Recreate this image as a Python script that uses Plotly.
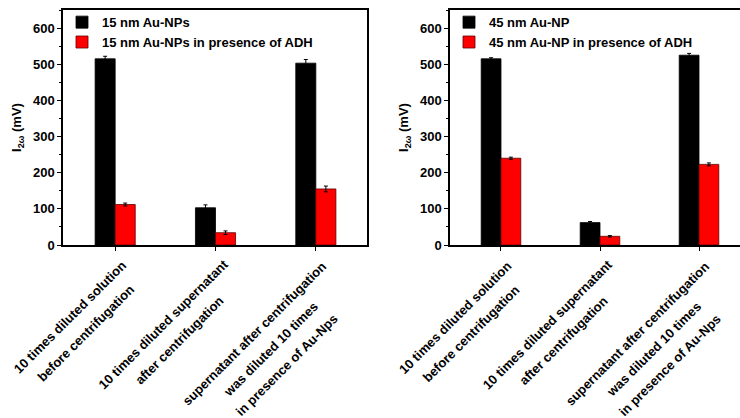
import math
import plotly.graph_objects as go

category_lines = [
    ["10 times diluted solution", "before centrifugation"],
    ["10 times diluted supernatant", "after centrifugation"],
    ["supernatant after centrifugation", "was diluted 10 times", "in presence of Au-Nps"],
]
cat_pos = [1, 2, 3]

left_names = ["15 nm Au-NPs", "15 nm Au-NPs in presence of ADH"]
left_black = [515, 103, 503]
left_black_err = [7, 8, 10]
left_red = [112, 34, 155]
left_red_err = [4, 5, 8]

right_names = ["45 nm Au-NP", "45 nm Au-NP in presence of ADH"]
right_black = [515, 62, 525]
right_black_err = [3, 3, 5]
right_red = [240, 24, 223]
right_red_err = [3, 2, 4]

y_ticks = [0, 100, 200, 300, 400, 500, 600]

FONT = "Arial, Liberation Sans, Helvetica, sans-serif"
BLACK = "#000000"
RED = "#ff0000"

fig = go.Figure()

def add_bars(names, black, berr, red, rerr, xa, ya, leg):
    fig.add_trace(go.Bar(
        x=cat_pos, y=black, name=names[0], xaxis=xa, yaxis=ya, legend=leg,
        marker=dict(color=BLACK, line=dict(color=BLACK, width=0.8)),
        error_y=dict(type="data", array=berr, color=BLACK, thickness=1, width=2),
    ))
    fig.add_trace(go.Bar(
        x=cat_pos, y=red, name=names[1], xaxis=xa, yaxis=ya, legend=leg,
        marker=dict(color=RED, line=dict(color="#600000", width=0.8)),
        error_y=dict(type="data", array=rerr, color=BLACK, thickness=1, width=2),
    ))

add_bars(left_names, left_black, left_black_err, left_red, left_red_err, "x", "y", "legend")
add_bars(right_names, right_black, right_black_err, right_red, right_red_err, "x2", "y2", "legend2")

# rotated, centre-aligned category labels (one annotation per text line)
ANGLE = 45
CHAR_W = 6.4      # approx. px per character at 13px bold
LINE_S = 22.5     # px between lines (perpendicular)
CORNER = (11, 16) # end of first line relative to tick (px, right/down)
ca, sa = math.cos(math.radians(ANGLE)), math.sin(math.radians(ANGLE))
for xa, ya in (("x", "y"), ("x2", "y2")):
    for pos, lines in zip(cat_pos, category_lines):
        W = max(len(t) for t in lines) * CHAR_W
        for k, txt in enumerate(lines):
            dx = CORNER[0] - (W / 2) * ca + k * LINE_S * sa
            dy = CORNER[1] + (W / 2) * sa + k * LINE_S * ca
            fig.add_annotation(
                x=pos, y=0, xref=xa, yref=ya, text=txt, showarrow=False,
                textangle=-ANGLE, xanchor="center", yanchor="middle",
                xshift=dx, yshift=-dy,
                font=dict(family=FONT, size=13, color=BLACK, weight="bold"),
            )

xcommon = dict(
    tickmode="array", tickvals=cat_pos, showticklabels=False,
    ticks="outside", ticklen=4, tickwidth=1.2, tickcolor=BLACK, automargin=False,
    showline=True, linecolor=BLACK, linewidth=1.5, showgrid=False, zeroline=False,
)
ycommon = dict(
    range=[0, 650], tickmode="array", tickvals=y_ticks, automargin=False,
    ticks="outside", ticklen=4, tickwidth=1.2, tickcolor=BLACK,
    minor=dict(ticks="outside", ticklen=2, dtick=50, tick0=0, tickcolor=BLACK, tickwidth=1),
    showline=True, linecolor=BLACK, linewidth=1.5, showgrid=False, zeroline=False,
    tickfont=dict(family=FONT, size=13, color=BLACK, weight="bold"),
    title=dict(text="I<sub>2ω</sub> (mV)", font=dict(family=FONT, size=13, color=BLACK, weight="bold"), standoff=8),
)

legfont = dict(family=FONT, size=13, color=BLACK, weight="bold")
fig.update_layout(
    width=740, height=418,
    margin=dict(l=0, r=0, t=10, b=173, autoexpand=False),
    paper_bgcolor="white", plot_bgcolor="white",
    barmode="group", bargap=0.6, bargroupgap=0,
    xaxis=dict(domain=[63/740, 367/740], range=[0.48, 3.51], mirror=True, anchor="y", **xcommon),
    yaxis=dict(domain=[0, 1], mirror=True, anchor="x", **ycommon),
    xaxis2=dict(domain=[450/740, 1.0], range=[0.485, 3.414], mirror=True, anchor="y2", **xcommon),
    yaxis2=dict(domain=[0, 1], mirror=False, anchor="x2", **ycommon),
    legend=dict(x=62/740, y=1.012, xanchor="left", yanchor="top", bgcolor="rgba(0,0,0,0)",
                font=legfont, tracegroupgap=0, itemwidth=30, traceorder="normal"),
    legend2=dict(x=449/740, y=1.012, xanchor="left", yanchor="top", bgcolor="rgba(0,0,0,0)",
                 font=legfont, tracegroupgap=0, itemwidth=30, traceorder="normal"),
    showlegend=True,
)

fig.write_html("out.html")
